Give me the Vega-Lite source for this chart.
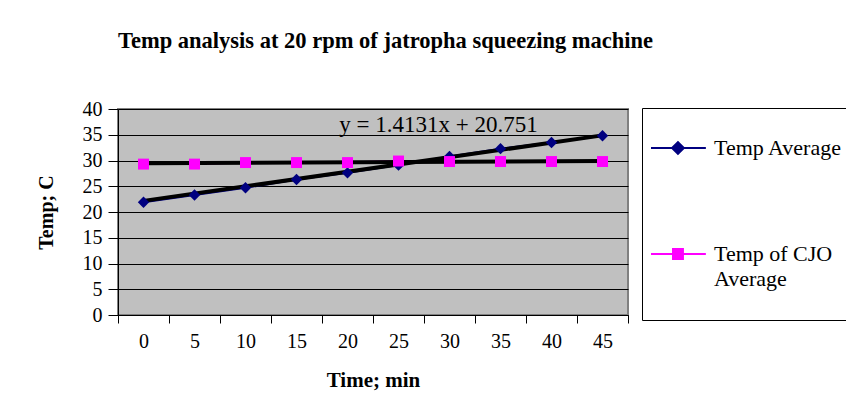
{
  "$schema": "https://vega.github.io/schema/vega-lite/v6.json",
  "width": 510,
  "height": 206,
  "autosize": {"type": "none"},
  "padding": {"left": 118, "top": 109, "right": 218, "bottom": 88},
  "background": "white",
  "title": {
    "text": "Temp analysis at 20 rpm of jatropha squeezing machine",
    "anchor": "start",
    "frame": "group",
    "font": "Liberation Serif",
    "fontSize": 22.5,
    "fontWeight": "bold",
    "color": "black",
    "offset": 47
  },
  "config": {
    "view": {"fill": "#c0c0c0", "stroke": "#808080", "strokeWidth": 2},
    "axis": {
      "labelFont": "Liberation Serif",
      "titleFont": "Liberation Serif",
      "labelColor": "black",
      "titleColor": "black",
      "domainColor": "black",
      "tickColor": "black",
      "labelFontSize": 20,
      "titleFontSize": 20,
      "titleFontWeight": "bold"
    }
  },
  "datasets": {
    "series": [
      {"time": 0, "series": "Temp Average", "temp": 21.9},
      {"time": 5, "series": "Temp Average", "temp": 23.3},
      {"time": 10, "series": "Temp Average", "temp": 24.7},
      {"time": 15, "series": "Temp Average", "temp": 26.3},
      {"time": 20, "series": "Temp Average", "temp": 27.6},
      {"time": 25, "series": "Temp Average", "temp": 29.1},
      {"time": 30, "series": "Temp Average", "temp": 30.8},
      {"time": 35, "series": "Temp Average", "temp": 32.3},
      {"time": 40, "series": "Temp Average", "temp": 33.5},
      {"time": 45, "series": "Temp Average", "temp": 34.8},
      {"time": 0, "series": "Temp of CJO Average", "temp": 29.3},
      {"time": 5, "series": "Temp of CJO Average", "temp": 29.3},
      {"time": 10, "series": "Temp of CJO Average", "temp": 29.6},
      {"time": 15, "series": "Temp of CJO Average", "temp": 29.6},
      {"time": 20, "series": "Temp of CJO Average", "temp": 29.6},
      {"time": 25, "series": "Temp of CJO Average", "temp": 29.9},
      {"time": 30, "series": "Temp of CJO Average", "temp": 29.8},
      {"time": 35, "series": "Temp of CJO Average", "temp": 29.8},
      {"time": 40, "series": "Temp of CJO Average", "temp": 29.8},
      {"time": 45, "series": "Temp of CJO Average", "temp": 29.8}
    ],
    "trends": [
      {"time": 0, "trend": "Temp Average trend", "temp": 22.16},
      {"time": 45, "trend": "Temp Average trend", "temp": 34.88},
      {"time": 0, "trend": "CJO trend", "temp": 29.45},
      {"time": 45, "trend": "CJO trend", "temp": 29.9}
    ],
    "labels": [
      {"time": 30, "temp": 36.9, "label": "y = 1.4131x + 20.751"}
    ]
  },
  "encoding": {
    "x": {
      "field": "time",
      "type": "ordinal",
      "scale": {"type": "band", "paddingInner": 0, "paddingOuter": 0, "domain": [0, 5, 10, 15, 20, 25, 30, 35, 40, 45]},
      "axis": {
        "title": "Time; min",
        "labelAngle": 0,
        "tickBand": "extent",
        "tickSize": 8,
        "labelPadding": 8,
        "titlePadding": 18,
        "titleFontSize": 21,
        "grid": false
      }
    },
    "y": {
      "field": "temp",
      "type": "quantitative",
      "scale": {"domain": [0, 40], "nice": false, "zero": true},
      "axis": {
        "title": "Temp; C",
        "values": [0, 5, 10, 15, 20, 25, 30, 35, 40],
        "tickSize": 10,
        "labelPadding": 6,
        "titlePadding": 26,
        "grid": true,
        "gridColor": "black",
        "gridWidth": 1,
        "gridOpacity": 1
      }
    }
  },
  "layer": [
    {
      "data": {"name": "series"},
      "mark": {"type": "line", "strokeWidth": 2},
      "encoding": {
        "color": {
          "field": "series",
          "type": "nominal",
          "scale": {"domain": ["Temp Average", "Temp of CJO Average"], "range": ["#000080", "#ff00ff"]},
          "legend": {
            "title": " ",
            "titleOrient": "bottom",
            "titleFontSize": 12,
            "titlePadding": 11,
            "orient": "none",
            "legendX": 524,
            "legendY": -1,
            "padding": 8,
            "strokeColor": "black",
            "fillColor": "white",
            "symbolSize": 3844,
            "symbolStrokeWidth": 2,
            "rowPadding": 63,
            "labelFont": "Liberation Serif",
            "labelFontSize": 22,
            "labelColor": "black",
            "labelOffset": 0,
            "labelLimit": 300,
            "labelExpr": "datum.label == 'Temp of CJO Average' ? ['Temp of CJO', 'Average'] : datum.label + '\u00a0\u00a0\u00a0\u00a0'",
            "encode": {
              "symbols": {
                "update": {
                  "shape": {"signal": "datum.value == 'Temp Average' ? 'M-1,0H0.77M-0.32,0L-0.13,-0.19L0.06,0L-0.13,0.19Z' : 'M-1,0H0.77M-0.29,-0.16H0.03V0.16H-0.29Z'"},
                  "fill": {"signal": "datum.value == 'Temp Average' ? '#000080' : '#ff00ff'"},
                  "strokeWidth": {"value": 2},
                  "opacity": {"value": 1}
                }
              },
              "labels": {
                "update": {
                  "lineHeight": {"value": 25}
                }
              }
            }
          }
        }
      }
    },
    {
      "data": {"name": "trends"},
      "mark": {"type": "line", "strokeWidth": 4, "color": "black"},
      "encoding": {
        "detail": {"field": "trend", "type": "nominal"}
      }
    },
    {
      "data": {"name": "series"},
      "transform": [{"filter": "datum.series == 'Temp Average'"}],
      "mark": {"type": "point", "filled": true, "opacity": 1, "size": 130, "shape": "diamond", "color": "#000080"}
    },
    {
      "data": {"name": "series"},
      "transform": [{"filter": "datum.series == 'Temp of CJO Average'"}],
      "mark": {"type": "point", "filled": true, "opacity": 1, "size": 120, "shape": "square", "color": "#ff00ff"}
    },
    {
      "data": {"name": "labels"},
      "mark": {"type": "text", "font": "Liberation Serif", "fontSize": 23, "color": "black", "dx": -11},
      "encoding": {
        "text": {"field": "label", "type": "nominal"}
      }
    }
  ]
}
